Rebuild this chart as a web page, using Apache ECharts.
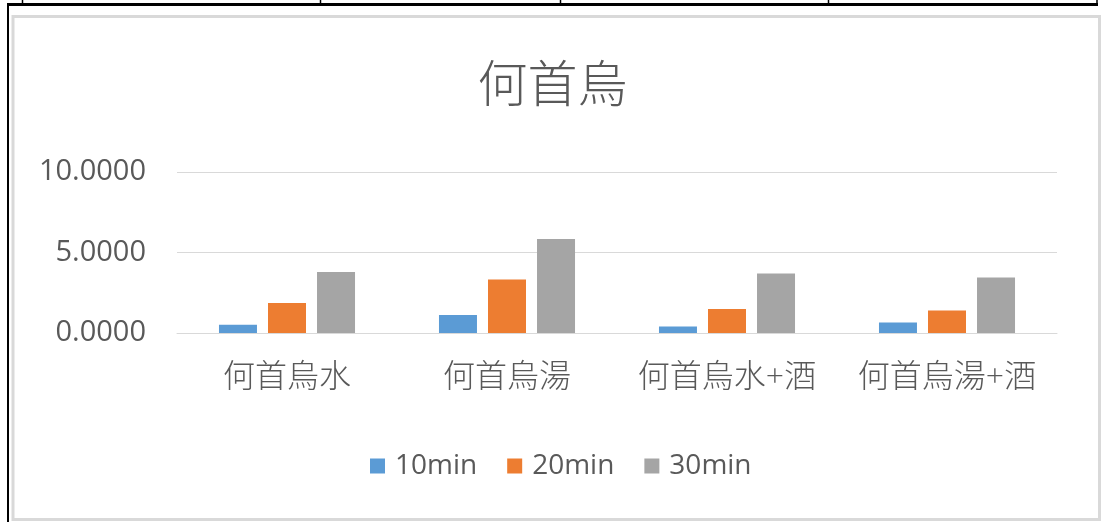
<!DOCTYPE html>
<html>
<head>
<meta charset="utf-8">
<script src="https://cdn.jsdelivr.net/npm/echarts@6/dist/echarts.min.js"></script>
<style>
html,body{margin:0;padding:0;background:#fff;}
#chart{width:1105px;height:522px;}
</style>
</head>
<body>
<div id="chart"></div>
<script>
const titleText = '何首烏';
const categories = ['何首烏水', '何首烏湯', '何首烏水+酒', '何首烏湯+酒'];
const seriesNames = ['10min', '20min', '30min'];
const values10 = [0.52, 1.12, 0.40, 0.65];
const values20 = [1.86, 3.32, 1.49, 1.39];
const values30 = [3.79, 5.84, 3.69, 3.44];
const colors = ['#5b9bd5', '#ed7d31', '#a5a5a5'];

const allValues = [values10, values20, values30];
const chart = echarts.init(document.getElementById('chart'), null, {renderer: 'canvas'});
const textColor = '#595959';
const latin = "'Open Sans', 'Noto Sans CJK TC', sans-serif";

const option = {
  backgroundColor: '#fff',
  animation: false,
  color: colors,
  title: {
    text: titleText,
    left: 'center',
    top: 53,
    textStyle: {fontFamily: "'Noto Sans CJK TC', sans-serif", fontSize: 50, fontWeight: 300, color: textColor}
  },
  legend: {
    data: seriesNames,
    left: 365,
    top: 447,
    itemWidth: 15,
    itemHeight: 15,
    itemGap: 30,
    icon: 'rect',
    textStyle: {fontFamily: latin, fontSize: 28, color: textColor, padding: [0, 0, 0, 5]}
  },
  grid: {left: 177, right: 48, top: 172, bottom: 189, containLabel: false},
  xAxis: {
    type: 'category',
    data: categories,
    axisLine: {show: true, lineStyle: {color: '#d9d9d9', width: 1}},
    axisTick: {show: false},
    axisLabel: {fontFamily: latin, fontSize: 32, fontWeight: 300, color: textColor, margin: 29, interval: 0}
  },
  yAxis: {
    type: 'value',
    min: 0,
    max: 10,
    interval: 5,
    axisLine: {show: false},
    axisTick: {show: false},
    splitLine: {lineStyle: {color: '#d9d9d9', width: 1}},
    axisLabel: {fontFamily: latin, fontSize: 29, color: textColor, margin: 31,
      formatter: v => v.toFixed(4)}
  },
  series: seriesNames.map((n, i) => ({
    name: n,
    type: 'bar',
    data: allValues[i],
    barWidth: 38,
    barGap: '29%',
    itemStyle: {color: colors[i]}
  })),
  graphic: [
    {type: 'rect', silent: true, shape: {x: 13, y: 16.5, width: 1086.5, height: 503}, style: {fill: 'none', stroke: '#d9d9d9', lineWidth: 3}},
    {type: 'line', silent: true, shape: {x1: 8, y1: 4, x2: 8, y2: 522}, style: {stroke: '#000', lineWidth: 2}},
    {type: 'line', silent: true, shape: {x1: 7, y1: 4.5, x2: 1098, y2: 4.5}, style: {stroke: '#000', lineWidth: 3}},
    {type: 'line', silent: true, shape: {x1: 22.5, y1: 0, x2: 22.5, y2: 4}, style: {stroke: '#000', lineWidth: 1.5}},
    {type: 'line', silent: true, shape: {x1: 320.5, y1: 0, x2: 320.5, y2: 4}, style: {stroke: '#000', lineWidth: 1.5}},
    {type: 'line', silent: true, shape: {x1: 560.5, y1: 0, x2: 560.5, y2: 4}, style: {stroke: '#000', lineWidth: 1.5}},
    {type: 'line', silent: true, shape: {x1: 828.5, y1: 0, x2: 828.5, y2: 4}, style: {stroke: '#000', lineWidth: 1.5}},
    {type: 'line', silent: true, shape: {x1: 1097, y1: 0, x2: 1097, y2: 4}, style: {stroke: '#000', lineWidth: 1.5}}
  ]
};
chart.setOption(option);
</script>
</body>
</html>
